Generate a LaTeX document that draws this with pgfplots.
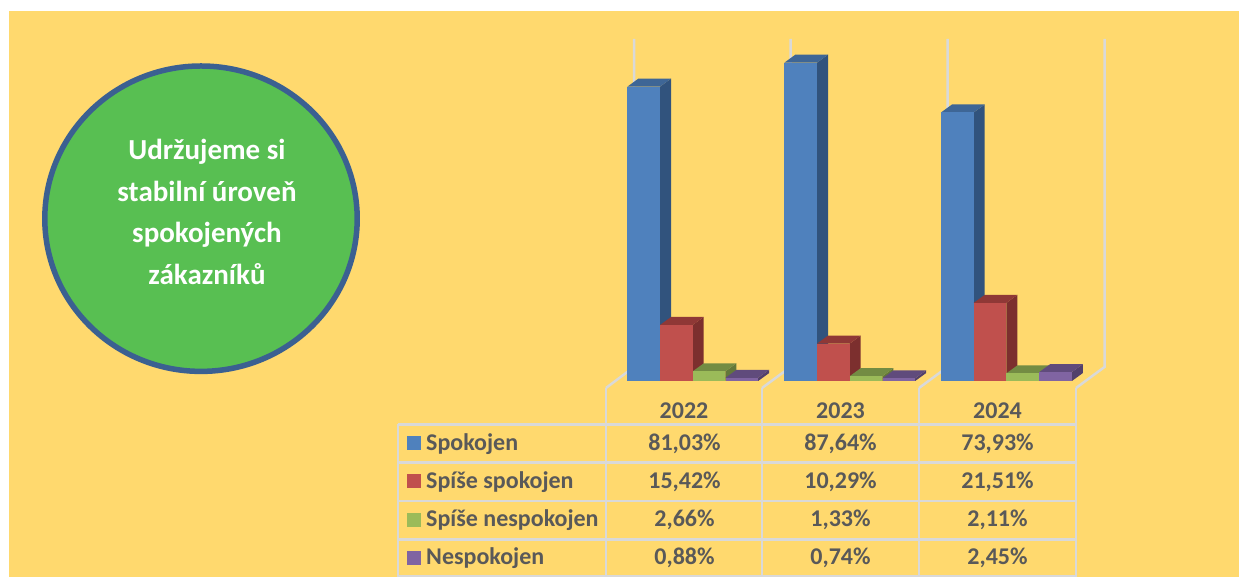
\documentclass[border=0pt]{standalone}
\usepackage{fontspec}
\setmainfont{Carlito}
\usepackage{pgfplots}
\pgfplotsset{compat=1.18}
\definecolor{bgy}{HTML}{FFD96E}
\definecolor{grn}{HTML}{58BF52}
\definecolor{ring}{HTML}{3B6091}
\definecolor{gridc}{HTML}{D9D9D9}
\definecolor{txt}{HTML}{595959}
\definecolor{bF}{HTML}{4F81BD}\definecolor{bT}{HTML}{3E6696}\definecolor{bS}{HTML}{31537D}
\definecolor{rF}{HTML}{C0504D}\definecolor{rT}{HTML}{8F3836}\definecolor{rS}{HTML}{7C2F2E}
\definecolor{gF}{HTML}{9BBB59}\definecolor{gT}{HTML}{738C43}\definecolor{gS}{HTML}{63783A}
\definecolor{pF}{HTML}{8064A2}\definecolor{pT}{HTML}{604B7C}\definecolor{pS}{HTML}{52406B}
% pixel coordinate of the reference (y downward)
\def\P#1#2{({#1pt},{577pt-#2pt})}
% depth faces of a bar: left edge, value, top colour, side colour
\newcommand\depth[4]{%
  \addplot[fill=#4,draw=none] coordinates {(#1+32.7,0) (#1+43.7,2.2) (#1+43.7,#2+2.2) (#1+32.7,#2)} --cycle;
  \addplot[fill=#3,draw=none] coordinates {(#1,#2) (#1+11,#2+2.2) (#1+43.7,#2+2.2) (#1+32.7,#2)} --cycle;
}
\newcommand\front[3]{%
  \addplot[ybar,bar width=32.7pt,bar shift=0pt,fill=#1,draw=none] coordinates {(#2+16.35,#3)};
}
\begin{document}
\begin{tikzpicture}
\useasboundingbox (0,0) rectangle (1239pt,577pt);
\fill[white] (0,0) rectangle (1239pt,577pt);
\fill[bgy] \P{9}{11} rectangle \P{1239}{577};
% circle
\fill[grn,draw=ring,line width=5.5pt] \P{201}{218.7} ellipse [x radius=156.2pt,y radius=152.7pt];
\begin{scope}[every node/.style={text=white,font=\fontsize{29}{29}\selectfont\bfseries,anchor=base,inner sep=0pt}]
\node at \P{207}{160} {Udržujeme si};
\node at \P{207}{201.5} {stabilní úroveň};
\node at \P{207}{242.5} {spokojených};
\node at \P{207}{285} {zákazníků};
\end{scope}
% walls
\begin{scope}[gridc,line width=2.5pt]
\draw \P{606}{388} -- \P{634}{367} -- \P{634}{39};
\draw \P{762}{388} -- \P{790.5}{367} -- \P{790.5}{39};
\draw \P{919}{388} -- \P{947.5}{367} -- \P{947.5}{39};
\draw \P{1076}{388} -- \P{1104.5}{367} -- \P{1104.5}{39};
\end{scope}
\begin{axis}[at={(0,0)},anchor=south west,width=1239pt,height=577pt,scale only axis,
  xmin=0,xmax=1239,ymin=-53.965,ymax=104.9,hide axis,clip=false]
% Spokojen
\depth{627.3}{81.03}{bT}{bS}\front{bF}{627.3}{81.03}
\depth{784.3}{87.64}{bT}{bS}\front{bF}{784.3}{87.64}
\depth{941}{73.93}{bT}{bS}\front{bF}{941}{73.93}
% Spise spokojen
\depth{660}{15.42}{rT}{rS}\front{rF}{660}{15.42}
\depth{817}{10.29}{rT}{rS}\front{rF}{817}{10.29}
\depth{973.7}{21.51}{rT}{rS}\front{rF}{973.7}{21.51}
% Spise nespokojen
\depth{692.7}{2.66}{gT}{gS}\front{gF}{692.7}{2.66}
\depth{849.7}{1.33}{gT}{gS}\front{gF}{849.7}{1.33}
\depth{1006.4}{2.11}{gT}{gS}\front{gF}{1006.4}{2.11}
% Nespokojen
\depth{725.5}{0.88}{pT}{pS}\front{pF}{725.5}{0.88}
\depth{882.5}{0.74}{pT}{pS}\front{pF}{882.5}{0.74}
\depth{1039.2}{2.45}{pT}{pS}\front{pF}{1039.2}{2.45}
\end{axis}
% table
\begin{scope}[gridc,line width=2.5pt]
\draw \P{762}{388} -- \P{762}{577};
\draw \P{919}{388} -- \P{919}{577};
\draw \P{1076}{388} -- \P{1076}{577};
\draw \P{398}{424.5} -- \P{398}{577};
\draw \P{606}{388} -- \P{606}{577};
\draw \P{398}{424.5} -- \P{1076}{424.5};
\draw \P{398}{462.7} -- \P{1076}{462.7};
\draw \P{398}{501} -- \P{1076}{501};
\draw \P{398}{539.3} -- \P{1076}{539.3};
\draw \P{398}{576.5} -- \P{1076}{576.5};
\end{scope}
\fill[bF] \P{407}{436} rectangle \P{421}{450};
\fill[rF] \P{407}{474} rectangle \P{421}{488};
\fill[gF] \P{407}{513} rectangle \P{421}{527};
\fill[pF] \P{407}{551} rectangle \P{421}{565};
\begin{scope}[every node/.style={text=txt,font=\fontsize{24}{24}\selectfont\bfseries,anchor=base,inner sep=0pt}]
\node at \P{684}{418.7} {2022};
\node at \P{840.5}{418.7} {2023};
\node at \P{997.5}{418.7} {2024};
\node[anchor=base west] at \P{426}{450.5} {Spokojen};
\node[anchor=base west] at \P{426}{488.5} {Spíše spokojen};
\node[anchor=base west] at \P{426}{526.5} {Spíše nespokojen};
\node[anchor=base west] at \P{426}{565} {Nespokojen};
\node at \P{684.5}{450.5} {81,03\%};
\node at \P{840.5}{450.5} {87,64\%};
\node at \P{997.5}{450.5} {73,93\%};
\node at \P{684.5}{488.5} {15,42\%};
\node at \P{840.5}{488.5} {10,29\%};
\node at \P{997.5}{488.5} {21,51\%};
\node at \P{684.5}{526.5} {2,66\%};
\node at \P{840.5}{526.5} {1,33\%};
\node at \P{997.5}{526.5} {2,11\%};
\node at \P{684.5}{565} {0,88\%};
\node at \P{840.5}{565} {0,74\%};
\node at \P{997.5}{565} {2,45\%};
\end{scope}
\end{tikzpicture}
\end{document}
